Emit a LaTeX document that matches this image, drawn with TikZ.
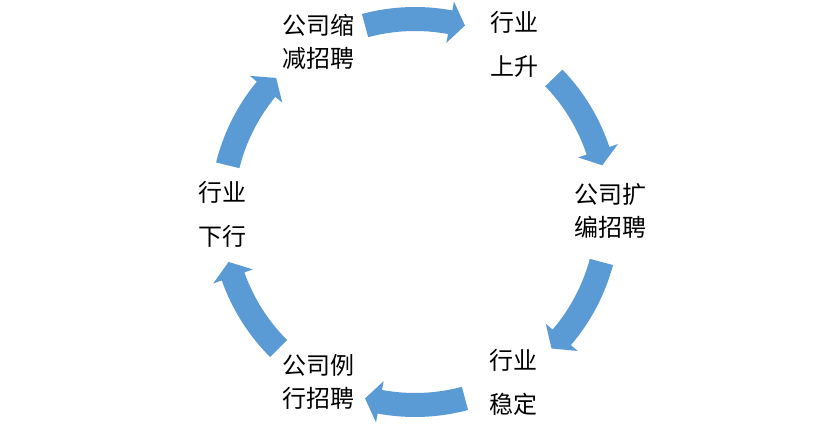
\documentclass[tikz,border=0pt]{standalone}
\usepackage{fontspec}
\setmainfont{Noto Sans CJK SC}
\definecolor{arrowblue}{HTML}{5B9BD5}
\newcommand{\cycarrow}[1]{%
  \fill[arrowblue] (#1+15:205) arc[start angle=#1+15, end angle=#1-10.5, radius=205]
    -- (#1-10.5:214) -- (#1-15:193) -- (#1-10.5:172) -- (#1-10.5:181)
    arc[start angle=#1-10.5, end angle=#1+15, radius=181] -- cycle;}
\begin{document}
\begin{tikzpicture}[x=1pt,y=1pt,
  lbl/.style={inner sep=0pt, align=center, font=\fontsize{24}{33}\selectfont},
  lblwide/.style={inner sep=0pt, align=center, font=\fontsize{24}{44}\selectfont}]
\useasboundingbox (0,0) rectangle (831,426);
\fill[white] (0,0) rectangle (831,426);
\node[lbl] (n1) at (318,384) {公司缩\\减招聘};
\node[lblwide] (n2) at (514,382) {行业\\上升};
\node[lbl] (n3) at (610,215) {公司扩\\编招聘};
\node[lblwide] (n4) at (513,44) {行业\\稳定};
\node[lbl] (n5) at (318,44) {公司例\\行招聘};
\node[lblwide] (n6) at (222,212) {行业\\下行};
\begin{scope}[shift={(415,214)}]
\cycarrow{90}
\cycarrow{29}
\cycarrow{-30}
\cycarrow{-90}
\cycarrow{-150}
\cycarrow{151}
\end{scope}
\end{tikzpicture}
\end{document}
